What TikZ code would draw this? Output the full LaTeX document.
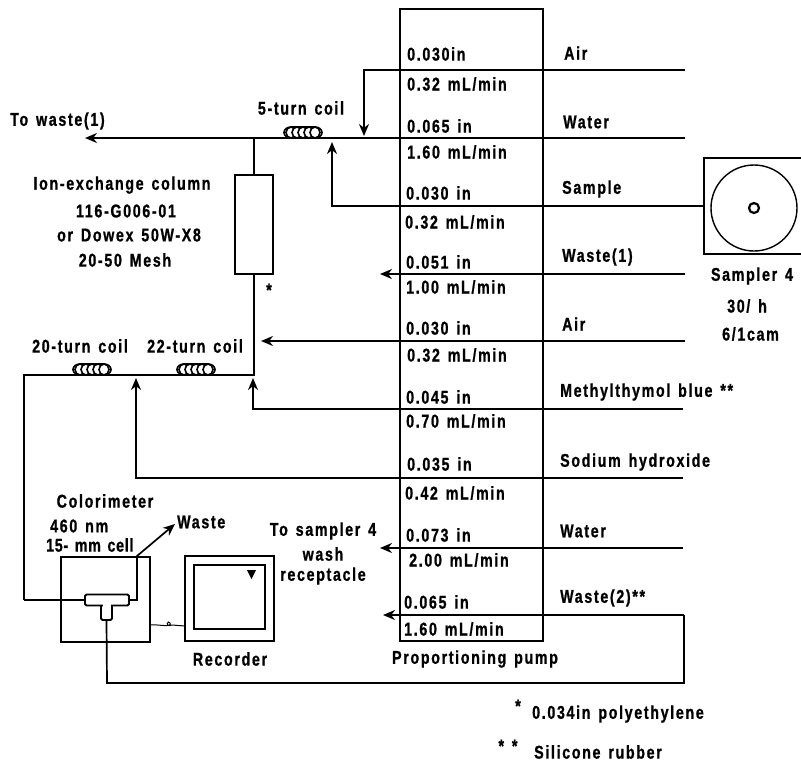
\documentclass[tikz,border=0pt]{standalone}
\usepackage{fontspec}
\setmainfont{Liberation Sans}[FakeStretch=0.77,LetterSpace=9,WordSpace=1.4,BoldFeatures={FakeBold=0.9}]
\usetikzlibrary{arrows.meta}
\begin{document}
\begin{tikzpicture}[
        x=1pt, y=-1pt,
        >={Stealth[length=12pt,width=10pt]},
        tube/.style={draw, line width=2.2pt},
        thintube/.style={draw, line width=1.7pt},
        unitbox/.style={rectangle, draw, line width=2pt, inner sep=0pt},
        lbl/.style={inner sep=0pt, align=center, font=\fontsize{18.5}{18.5}\selectfont\bfseries},
        leftlbl/.style={lbl, anchor=west},
        coil/.pic={
            \foreach \i in {-2,...,2}
                \draw[line width=1.6pt, fill=white] (\i*6,0) ellipse (5pt and 5.5pt);
            \draw[line width=1.6pt] (-12,-5.5) -- (12,-5.5) (-12,5.5) -- (12,5.5)
                (-12,-5.5) arc[start angle=90, end angle=270, x radius=7pt, y radius=5.5pt]
                (12,-5.5) arc[start angle=90, end angle=-90, x radius=7pt, y radius=5.5pt];
        }
    ]
    \useasboundingbox (0,0) rectangle (801,761);

    % units
    \node[unitbox, minimum width=143pt, minimum height=632pt] (pump) at (471.5,325) {};
    \node[unitbox, minimum width=38pt, minimum height=99pt] (column) at (254,224.5) {};
    \node[unitbox, minimum width=89pt, minimum height=85pt] (colorimeter) at (105.5,599.5) {};
    \node[unitbox, minimum width=89pt, minimum height=85pt] (recorder) at (229.5,598.5) {};
    \node[unitbox, minimum width=71pt, minimum height=64pt] (chart) at (229.5,597) {};
    \node[unitbox, minimum width=100pt, minimum height=96pt] (sampler) at (754,206) {};
    \node[circle, draw, line width=1.4pt, minimum size=86pt, inner sep=0pt] (tray) at (754,208) {};
    \node[circle, draw, line width=2.2pt, minimum size=10pt, inner sep=0pt] (hub) at (754,208) {};
    \fill (247,570) -- (256,570) -- (251.5,579) -- cycle;

    % flow cell
    \node[rectangle, draw, fill=white, line width=1.8pt, rounded corners=1.5pt, minimum width=11pt, minimum height=20pt, inner sep=0pt] (cellstem) at (106.5,610) {};
    \node[rectangle, draw, fill=white, line width=1.8pt, rounded corners=1.5pt, minimum width=44pt, minimum height=11pt, inner sep=0pt] (cell) at (107,600) {};
    \fill[white] (102.5,603) rectangle (110.5,608);

    % line ends
    \coordinate (airin) at (685,70);
    \coordinate (airturn) at (364,70);
    \coordinate (airtip) at (364,136);
    \coordinate (waterin) at (685,138);
    \coordinate (wastetip) at (85,138);
    \coordinate (sampleturn) at (332,206);
    \coordinate (sampletip) at (332,142);
    \coordinate (wasteonein) at (685,274);
    \coordinate (wasteonetip) at (380,274);
    \coordinate (airtwoin) at (685,341);
    \coordinate (airtwotip) at (261,341);
    \coordinate (dyein) at (683,409);
    \coordinate (dyeturn) at (253,409);
    \coordinate (dyetip) at (253,378);
    \coordinate (naohin) at (683,478);
    \coordinate (naohturn) at (136,478);
    \coordinate (naohtip) at (136,378);
    \coordinate (washin) at (683,548);
    \coordinate (washtip) at (380,548);
    \coordinate (wastetwoin) at (684,615);
    \coordinate (wastetwotip) at (383,615);
    \coordinate (retturn) at (684,683);
    \coordinate (retcorner) at (107,683);
    \coordinate (coltop) at (254,138);
    \coordinate (colbot) at (254,375);
    \coordinate (mixcorner) at (24,375);
    \coordinate (cellin) at (24,600);
    \coordinate (outa) at (137,600);
    \coordinate (outb) at (137,556);
    \coordinate (outtip) at (175,524);
    \coordinate (samplerout) at (704,206);
    \coordinate (wirea) at (150,625);
    \coordinate (wireb) at (185,626);

    % lines
    \draw[tube, ->] (airin) -- (airturn) -- (airtip);
    \draw[tube, ->] (waterin) -- (wastetip);
    \draw[tube, ->] (samplerout) -- (sampleturn) -- (sampletip);
    \draw[tube, ->] (wasteonein) -- (wasteonetip);
    \draw[tube, ->] (airtwoin) -- (airtwotip);
    \draw[tube, ->] (dyein) -- (dyeturn) -- (dyetip);
    \draw[tube, ->] (naohin) -- (naohturn) -- (naohtip);
    \draw[tube, ->] (washin) -- (washtip);
    \draw[tube, ->] (wastetwoin) -- (wastetwotip);
    \draw[thintube] (wastetwoin) -- (retturn) -- (retcorner) -- (cellstem.south);
    \draw[tube] (coltop) -- (column.north);
    \draw[tube] (column.south) -- (colbot) -- (mixcorner) -- (cellin);
    \draw[thintube] (cellin) -- (cell.west);
    \draw[thintube, ->] (cell.east) -- (outa) -- (outb) -- (outtip);
    \draw[line width=1pt] (wirea) .. controls (158,624) and (172,628) .. (170,623)
        .. controls (168,619) and (164,628) .. (172,625) -- (wireb);

    % coils
    \pic (coilfive) at (303,132.5) {coil};
    \pic (coiltwentytwo) at (196,369.5) {coil};
    \pic (coiltwenty) at (92,369.5) {coil};

    % pump rows
    \foreach \name/\xx/\yy/\txt in {
        boreA/407/54/0.030in, rateA/407/84/{0.32 mL/min},
        boreB/407/126/0.065 in, rateB/407/152/{1.60 mL/min},
        boreC/406/193/0.030 in, rateC/405/222/{0.32 mL/min},
        boreD/406/262/0.051 in, rateD/406/287/{1.00 mL/min},
        boreE/406/328/0.030 in, rateE/407/355/{0.32 mL/min},
        boreF/406/397/0.045 in, rateF/406/421/{0.70 mL/min},
        boreG/407/464/0.035 in, rateG/405/493/{0.42 mL/min},
        boreH/406/535/0.073 in, rateH/409/560/{2.00 mL/min},
        boreI/404/602/0.065 in, rateI/404/629/{1.60 mL/min}}
        \node[leftlbl] (\name) at (\xx,\yy) {\txt};

    % reagents
    \foreach \name/\xx/\yy/\txt in {
        lineA/564/53/Air, lineB/563/122/Water, lineC/562/189/Sample,
        lineD/562/257/Waste(1), lineE/562/324/Air,
        lineF/560/392/Methylthymol blue **, lineG/560/462/Sodium hydroxide,
        lineH/560/531/Water, lineI/560/598/Waste(2)**}
        \node[leftlbl] (\name) at (\xx,\yy) {\txt};

    % other labels
    \node[leftlbl] (towaste) at (10,121) {To waste(1)};
    \node[lbl] (fivecoil) at (301,108) {5-turn coil};
    \node[lbl] (ionA) at (122,185) {Ion-exchange column};
    \node[lbl] (ionB) at (126,211) {116-G006-01};
    \node[lbl] (ionC) at (129,235) {or Dowex 50W-X8};
    \node[lbl] (ionD) at (125,260) {20-50 Mesh};
    \node[lbl] (star) at (269,290) {*};
    \node[lbl] (twentycoil) at (80,346) {20-turn coil};
    \node[lbl] (twentytwocoil) at (195,346) {22-turn coil};
    \node[lbl] (colorlabel) at (105,501) {Colorimeter};
    \node[leftlbl] (nmlabel) at (50,526) {460 nm};
    \node[leftlbl] (celllabel) at (46,545) {\addfontfeature{LetterSpace=4}15- mm cell};
    \node[leftlbl] (wastelabel) at (177,522) {Waste};
    \node[lbl] (washA) at (323,531) {To sampler 4};
    \node[lbl] (washB) at (323,554) {wash};
    \node[lbl] (washC) at (323,576) {receptacle};
    \node[lbl] (recorderlabel) at (230,659) {Recorder};
    \node[lbl] (pumplabel) at (475,659) {Proportioning pump};
    \node[lbl] (samplerlabel) at (752,276) {Sampler 4};
    \node[leftlbl] (ratelabel) at (727,306) {30/ h};
    \node[leftlbl] (camlabel) at (722,334) {6/1cam};
    \node[lbl] (starone) at (518,706) {*};
    \node[leftlbl] (tubinga) at (532,714) {0.034in polyethylene};
    \node[lbl] (startwo) at (508,746) {* *};
    \node[leftlbl] (tubingb) at (534,752) {Silicone rubber};
\end{tikzpicture}
\end{document}
